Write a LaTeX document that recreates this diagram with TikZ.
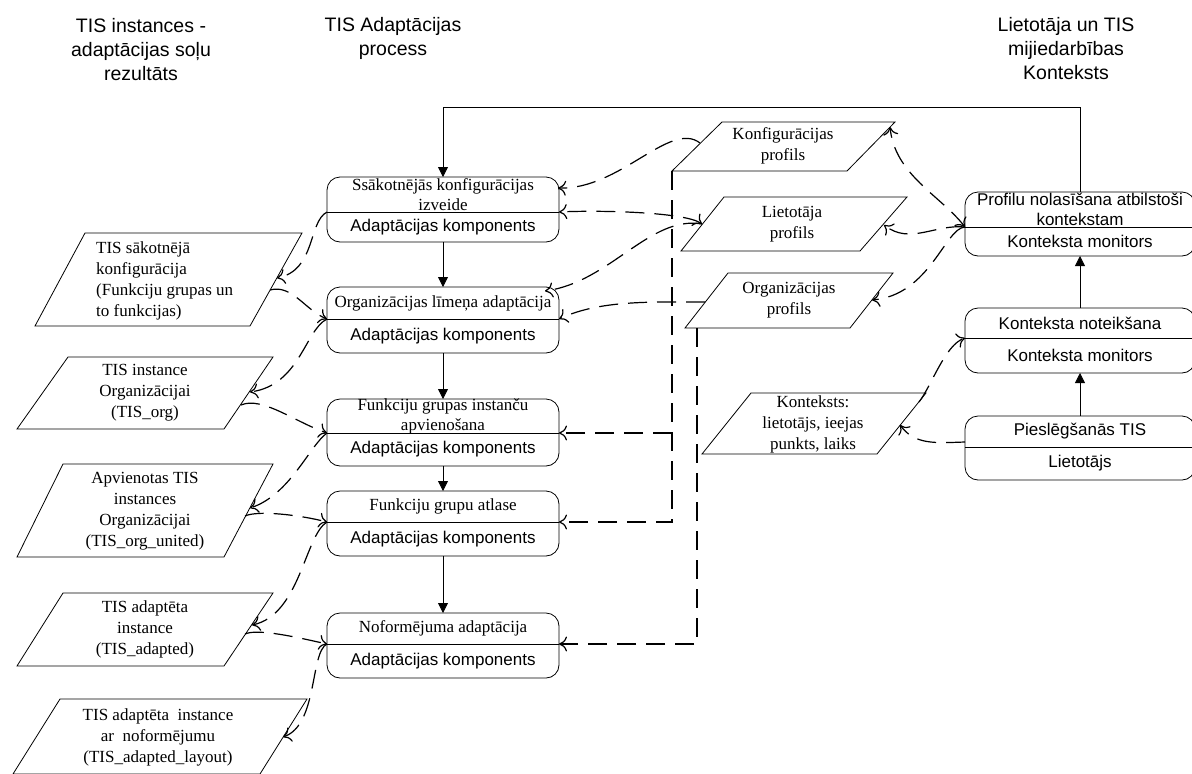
\documentclass[tikz,border=0pt]{standalone}
\usepackage{fontspec}
\setmainfont{Liberation Serif}
\setsansfont{Liberation Sans}
\usetikzlibrary{arrows.meta}

% step box: rounded rectangle split in two compartments
% #1 name, #2 x left, #3 x right, #4 top, #5 divider, #6 bottom, #7 upper text, #8 lower text, #9 upper text style
\newcommand\stepbox[9]{%
  \node[rbox, minimum width={(#3-#2)*1pt}, minimum height={(#6-#4)*1pt}] (#1) at ({(#2+#3)/2},{(#4+#6)/2}) {};
  \coordinate (#1-w) at (#2,#5);
  \coordinate (#1-e) at (#3,#5);
  \draw[shp] (#1-w) -- (#1-e);
  \node[#9] (#1-up) at ({(#2+#3)/2},{(#4+#5)/2}) {#7};
  \node[sans] (#1-lo) at ({(#2+#3)/2},{(#5+#6)/2}) {#8};
}

\begin{document}
\begin{tikzpicture}[x=1pt,y=-1pt,
  shp/.style={draw=black, line width=0.8pt},
  rbox/.style={draw=black, line width=0.8pt, rounded corners=13pt, inner sep=0pt, outer sep=0pt},
  serif/.style={font=\fontsize{17}{20}\selectfont, inner sep=0pt, align=center},
  sans/.style={font=\sffamily\fontsize{17}{20}\selectfont, inner sep=0pt, align=center},
  head/.style={font=\sffamily\fontsize{19.5}{24}\selectfont, inner sep=0pt, align=center},
  ptext/.style={font=\fontsize{17}{21}\selectfont, inner sep=0pt, align=center},
  flow/.style={draw=black, line width=0.8pt, -{Triangle[length=10pt,width=10pt]}},
  dl/.style={draw=black, line width=1.2pt, dash pattern=on 19pt off 10pt},
  tip/.style={-{Computer Modern Rightarrow[length=8pt,width=15pt]}},
  tips/.style={{Computer Modern Rightarrow[length=8pt,width=15pt]}-{Computer Modern Rightarrow[length=8pt,width=15pt]}}
]
\useasboundingbox (0,0) rectangle (1192,774);

% column headings
\node[head] (h1) at (141,50) {TIS instances -\\adaptācijas soļu\\rezultāts};
\node[head] (h2) at (393,38) {TIS Adaptācijas\\process};
\node[head] (h3) at (1066,49) {Lietotāja un TIS\\mijiedarbības\\Konteksts};

% adaptation process steps
\stepbox{b1}{327}{559}{177}{212}{242}{Ssākotnējās konfigurācijas\\izveide}{Adaptācijas komponents}{serif}
\stepbox{b2}{327}{559}{287}{319}{353}{Organizācijas līmeņa adaptācija}{Adaptācijas komponents}{serif}
\stepbox{b3}{327}{559}{399}{433}{466}{Funkciju grupas instanču\\apvienošana}{Adaptācijas komponents}{serif}
\stepbox{b4}{327}{559}{491}{522}{556}{Funkciju grupu atlase}{Adaptācijas komponents}{serif}
\stepbox{b5}{327}{559}{613}{644}{678}{Noformējuma adaptācija}{Adaptācijas komponents}{serif}

% context steps
\stepbox{prof}{965}{1195}{192}{227}{256}{Profilu nolasīšana atbilstoši\\kontekstam}{Konteksta monitors}{sans}
\stepbox{kn}{965}{1195}{308}{338}{373}{Konteksta noteikšana}{Konteksta monitors}{sans}
\stepbox{ps}{965}{1195}{416}{447}{480}{Pieslēgšanās TIS}{Lietotājs}{sans}

% instances produced by the steps
\draw[shp] (85,233) -- (302,233) -- (250,326) -- (35,326) -- cycle;
\node[ptext, align=left, anchor=west] (p1) at (96,280.5) {TIS sākotnējā\\konfigurācija\\(Funkciju grupas un\\to funkcijas)};
\draw[shp] (68,357) -- (273,357) -- (224,429) -- (17,429) -- cycle;
\node[ptext] (p2) at (145,393) {TIS instance\\Organizācijai\\(TIS\_org)};
\draw[shp] (63,464) -- (273,464) -- (224,557) -- (17,557) -- cycle;
\node[ptext] (p3) at (145,511.5) {Apvienotas TIS\\instances\\Organizācijai\\(TIS\_org\_united)};
\draw[shp] (63,593) -- (273,593) -- (224,666) -- (17,666) -- cycle;
\node[ptext] (p4) at (145,629) {TIS adaptēta\\instance\\(TIS\_adapted)};
\draw[shp] (60,699) -- (307,699) -- (260,774) -- (13,774) -- cycle;
\node[ptext] (p5) at (158,737.5) {TIS adaptēta\ \ instance\\ar\ \ noformējumu\\(TIS\_adapted\_layout)};

% profiles and context data
\draw[shp] (722,122) -- (895,122) -- (847,171) -- (672,171) -- cycle;
\node[ptext] (kp) at (783,145.5) {Konfigurācijas\\profils};
\draw[shp] (724,197) -- (907,197) -- (860,251) -- (681,251) -- cycle;
\node[ptext] (lp) at (792,224) {Lietotāja\\profils};
\draw[shp] (728,273) -- (893,273) -- (850,328) -- (685,328) -- cycle;
\node[ptext] (op) at (789,300.5) {Organizācijas\\profils};
\draw[shp] (751,393) -- (926,393) -- (877,454) -- (702,454) -- cycle;
\node[ptext] (kt) at (813,424) {Konteksts:\\lietotājs, ieejas\\punkts, laiks};

% connection points on the slanted shapes
\coordinate (p1-in) at (277,278);  \coordinate (p1-out) at (270,290);
\coordinate (p2-in) at (250,392);  \coordinate (p2-out) at (241,405);
\coordinate (p3-in) at (250,508);  \coordinate (p3-out) at (245,516);
\coordinate (p4-in) at (252,625);  \coordinate (p4-out) at (245,634);
\coordinate (p5-in) at (283,737);
\coordinate (kp-w) at (700,143);   \coordinate (kp-e) at (890,127);  \coordinate (kp-b) at (672,171);
\coordinate (lp-w) at (702,224);   \coordinate (lp-e) at (884,225);
\coordinate (op-w) at (705,302);   \coordinate (op-e) at (872,300);  \coordinate (op-b) at (697,328);
\coordinate (kt-e) at (900,425);   \coordinate (kt-ne) at (919,402);
\coordinate (b1-ne) at (558,188);  \coordinate (b2-ne) at (545,291);
\coordinate (ps-in) at (965,442);
\coordinate (fb) at (443,107);
\coordinate (j1) at (672,433);

% control flow
\draw[flow] (prof.north) |- (fb) -- (b1.north);
\draw[flow] (b1.south) -- (b2.north);
\draw[flow] (b2.south) -- (b3.north);
\draw[flow] (b3.south) -- (b4.north);
\draw[flow] (b4.south) -- (b5.north);
\draw[flow] (ps.north) -- (kn.south);
\draw[flow] (kn.north) -- (prof.south);

% data flow
\draw[dl, tip] (kp-b) |- (b4-e);
\draw[dl, tip] (j1) -- (b3-e);
\draw[dl, tip] (op-b) |- (b5-e);

\draw[dl, tip] (b1-w) .. controls (308,222) and (316,270) .. (p1-in);
\draw[dl, tip] (p1-out) .. controls (292,284) and (305,310) .. (b2-w);
\draw[dl, tip] (b2-w) .. controls (305,330) and (300,385) .. (p2-in);
\draw[dl, tip] (p2-out) .. controls (262,396) and (295,422) .. (b3-w);
\draw[dl, tip] (b3-w) .. controls (310,445) and (290,495) .. (p3-in);
\draw[dl, tip] (p3-out) .. controls (258,510) and (300,515) .. (b4-w);
\draw[dl, tip] (b4-w) .. controls (305,535) and (300,615) .. (p4-in);
\draw[dl, tip] (p4-out) .. controls (258,628) and (300,638) .. (b5-w);
\draw[dl, tip] (b5-w) .. controls (310,652) and (318,725) .. (p5-in);

\draw[dl, tip] (kp-w) .. controls (670,120) and (620,190) .. (b1-ne);
\draw[dl, tips] (lp-w) .. controls (685,212) and (600,210) .. (b1-e);
\draw[dl, tip] (lp-w) .. controls (650,215) and (610,282) .. (b2-ne);
\draw[dl, tip] (op-w) .. controls (650,302) and (600,300) .. (b2-e);

\draw[dl, tips] (prof-w) .. controls (940,195) and (895,175) .. (kp-e);
\draw[dl, tip] (prof-w) .. controls (935,224) and (910,245) .. (lp-e);
\draw[dl, tip] (prof-w) .. controls (945,228) and (930,295) .. (op-e);
\draw[dl, tip] (ps-in) .. controls (935,443) and (915,445) .. (kt-e);
\draw[dl, tip] (kt-ne) .. controls (932,385) and (945,345) .. (kn-w);
\end{tikzpicture}
\end{document}
